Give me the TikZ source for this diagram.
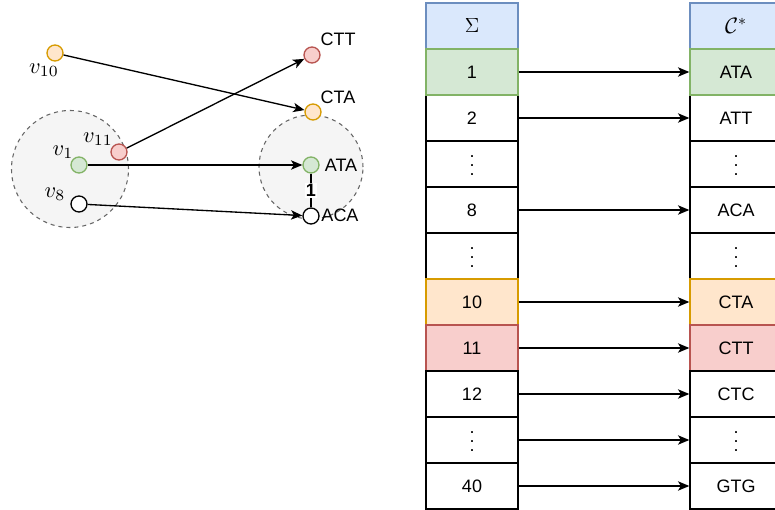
\RequirePackage{fix-cm}
\documentclass[tikz,border=0pt]{standalone}
\usepackage{amssymb,amsmath}
\usepackage{graphicx}
\usepackage{fontspec}
\setmainfont{Liberation Sans}
\usepackage{tikz}
\usetikzlibrary{arrows.meta}
\definecolor{headfill}{HTML}{DAE8FC}
\definecolor{headline}{HTML}{6C8EBF}
\definecolor{grnfill}{HTML}{D5E8D4}
\definecolor{grnline}{HTML}{82B366}
\definecolor{orgfill}{HTML}{FFE6CC}
\definecolor{orgline}{HTML}{D79B00}
\definecolor{redfill}{HTML}{F8CECC}
\definecolor{redline}{HTML}{B85450}
\definecolor{grpfill}{HTML}{F5F5F5}
\definecolor{grpline}{HTML}{666666}
\newcommand{\vdts}{\vbox{\kern3pt\baselineskip=6.75pt\lineskiplimit=0pt\hbox{.}\hbox{.}\hbox{.}}}
\newcommand{\vlab}[1]{\resizebox{!}{7.2pt}{$#1$}}
\tikzset{
    vtx/.style={circle,draw,fill=white,line width=1pt,minimum size=12pt,inner sep=0pt},
    grnv/.style={draw=grnline,fill=grnfill},
    orgv/.style={draw=orgline,fill=orgfill},
    redv/.style={draw=redline,fill=redfill},
    grp/.style={circle,draw=grpline,fill=grpfill,dashed,line width=0.8pt,inner sep=0pt},
    cell/.style={draw,fill=white,line width=1pt,minimum width=69pt,minimum height=34.5pt,inner sep=0pt,font=\fontsize{13.5}{16}\selectfont},
    headc/.style={draw=headline,fill=headfill},
    grnc/.style={draw=grnline,fill=grnfill},
    orgc/.style={draw=orgline,fill=orgfill},
    redc/.style={draw=redline,fill=redfill},
    tlbl/.style={inner sep=0pt,font=\fontsize{13.5}{16}\selectfont},
    mlbl/.style={inner sep=0pt},
    arr/.style={line width=1pt,-{Stealth[length=8.5pt,width=7pt,inset=2.2pt]}}
}

\begin{document}
\begin{tikzpicture}[x=0.75pt,y=-0.75pt]
\useasboundingbox (0,0) rectangle (775,510);
\fill[white] (0,0) rectangle (775,510);
\clip (0,0) rectangle (775,510);
% the two groups
\node[grp,minimum size=87.75pt] (grpa) at (70,169) {};
\node[grp,minimum size=78pt] (grpb) at (311,167) {};
% vertices
\node[vtx,orgv] (v10) at (55,53) {};
\node[vtx,redv] (v11) at (119,152) {};
\node[vtx,grnv] (v1) at (79,165) {};
\node[vtx] (v8) at (79,204) {};
\node[vtx,redv] (ctt) at (312,55) {};
\node[vtx,orgv] (cta) at (313,112) {};
\node[vtx,grnv] (ata) at (311,165) {};
\node[vtx] (aca) at (311,216) {};
\node[mlbl] (lv10) at (44,70) {\vlab{v_{10}}};
\node[mlbl] (lv11) at (98,139) {\vlab{v_{11}}};
\node[mlbl] (lv1) at (63,152) {\vlab{v_{1}}};
\node[mlbl] (lv8) at (55,194) {\vlab{v_{8}}};
\node[tlbl] (lctt) at (338,39) {CTT};
\node[tlbl] (lcta) at (338,97) {CTA};
\node[tlbl] (lata) at (341,165) {ATA};
\node[tlbl] (laca) at (340,215) {ACA};
\draw[arr] (v10) -- (cta);
\draw[arr] (v11) -- (ctt);
\draw[arr] (v1) -- (ata);
\draw[arr] (v8) -- (aca);
\draw[line width=1pt] (ata) -- node[fill=white,inner sep=1pt,font=\fontsize{13.5}{16}\selectfont\bfseries] (w1) {1} (aca);
% left column
\node[cell,headc] (s0) at (472,26) {\resizebox{!}{10.5pt}{$\Sigma$}};
\node[cell] (s2) at (472,118) {2};
\node[cell] (s3) at (472,164) {\vdts};
\node[cell,grnc] (s1) at (472,72) {1};
\node[cell] (s8) at (472,210) {8};
\node[cell] (s9) at (472,256) {\vdts};
\node[cell,orgc] (s10) at (472,302) {10};
\node[cell,redc] (s11) at (472,348) {11};
\node[cell] (s12) at (472,394) {12};
\node[cell] (s13) at (472,440) {\vdts};
\node[cell] (s40) at (472,486) {40};
% right column
\node[cell,headc] (c0) at (736,26) {\resizebox{!}{11.5pt}{$\mathcal{C}^{*}$}};
\node[cell] (c2) at (736,118) {ATT};
\node[cell] (c3) at (736,164) {\vdts};
\node[cell,grnc] (c1) at (736,72) {ATA};
\node[cell] (c8) at (736,210) {ACA};
\node[cell] (c9) at (736,256) {\vdts};
\node[cell,orgc] (c10) at (736,302) {CTA};
\node[cell,redc] (c11) at (736,348) {CTT};
\node[cell] (c12) at (736,394) {CTC};
\node[cell] (c13) at (736,440) {\vdts};
\node[cell] (c40) at (736,486) {GTG};
\draw[arr] (s1) -- (c1);
\draw[arr] (s2) -- (c2);
\draw[arr] (s8) -- (c8);
\draw[arr] (s10) -- (c10);
\draw[arr] (s11) -- (c11);
\draw[arr] (s12) -- (c12);
\draw[arr] (s13) -- (c13);
\draw[arr] (s40) -- (c40);
\end{tikzpicture}
\end{document}
